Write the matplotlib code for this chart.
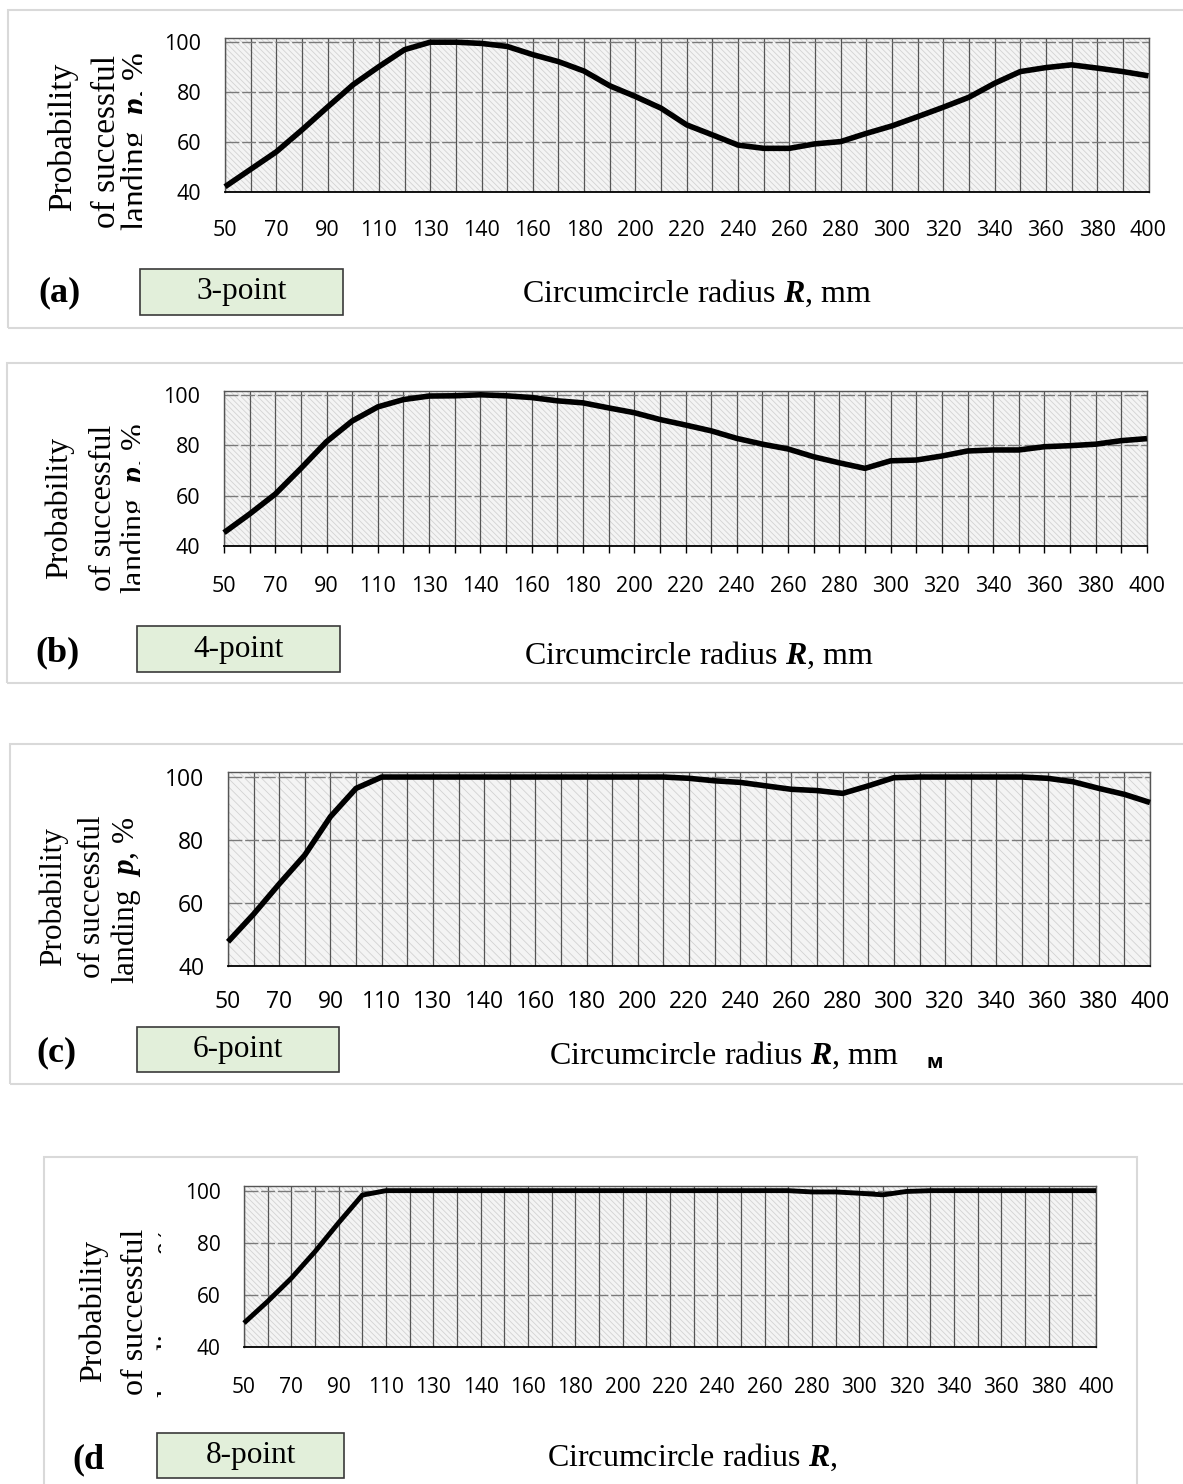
import matplotlib
matplotlib.use("Agg")
import matplotlib.pyplot as plt
from matplotlib.patches import Rectangle
from matplotlib.transforms import Bbox, TransformedBbox

# circumcircle radius categories (mm) - note the extra 135 category
R_mm = [50, 60, 70, 80, 90, 100, 110, 120, 130, 135, 140, 150, 160, 170, 180,
        190, 200, 210, 220, 230, 240, 250, 260, 270, 280, 290, 300, 310, 320,
        330, 340, 350, 360, 370, 380, 390, 400]

# probability of successful landing, %
p_3point = [42, 49, 56, 64.8, 74, 83, 90.2, 97, 100, 100, 99.5, 98.3, 95, 92.2,
            88.4, 82.5, 78.2, 73.5, 66.8, 62.8, 58.7, 57.4, 57.4, 59.2, 60.1,
            63.4, 66.4, 70.1, 73.9, 77.9, 83.5, 88.2, 89.8, 90.9, 89.6, 88.2, 86.5]
p_4point = [45.3, 52.7, 60.6, 70.8, 81.4, 89.6, 95.2, 98.1, 99.5, 99.6, 100,
            99.6, 98.9, 97.6, 96.8, 94.8, 92.9, 90.2, 88.0, 85.7, 82.7, 80.4,
            78.5, 75.4, 73.0, 70.8, 73.8, 74.1, 75.7, 77.7, 78.1, 78.1, 79.4,
            79.8, 80.4, 81.8, 82.6]
p_6point = [47.6, 56.4, 66, 75.2, 87.4, 96.4, 100, 100, 100, 100, 100, 100, 100,
            100, 100, 100, 100, 100, 99.6, 98.8, 98.3, 97.2, 96.1, 95.7, 94.8,
            97.2, 99.8, 100, 100, 100, 100, 100, 99.6, 98.5, 96.4, 94.5, 91.9]
p_8point = [49.2, 57.5, 66.4, 76.6, 87.7, 98.3, 100, 100, 100, 100, 100, 100,
            100, 100, 100, 100, 100, 100, 100, 100, 100, 100, 100, 100, 99.5,
            99.5, 99.0, 98.4, 99.7, 100, 100, 100, 100, 100, 100, 100, 100]

y_ticks = [40, 60, 80, 100]
panel_letters = ["(a)", "(b)", "(c)", "(d"]
point_labels = ["3-point", "4-point", "6-point", "8-point"]

W, H = 1183, 1484
SERIF = "Liberation Serif"
SANS = "Open Sans"

plt.rcParams["mathtext.fontset"] = "custom"
plt.rcParams["mathtext.rm"] = SERIF
plt.rcParams["mathtext.it"] = SERIF + ":italic"
plt.rcParams["mathtext.bf"] = SERIF + ":bold"
plt.rcParams["mathtext.bfit"] = SERIF + ":italic:bold"
plt.rcParams["hatch.linewidth"] = 0.6

fig = plt.figure(figsize=(W / 100, H / 100), dpi=100)


def frac(x, y):
    return x / W, 1 - y / H


def axrect(l, t, r, b):
    return [l / W, 1 - b / H, (r - l) / W, (b - t) / H]


def clip_left_of(xpix):
    return TransformedBbox(Bbox([[0, 0], [xpix / W, 1]]), fig.transFigure)


panels = [
    dict(data=p_3point, rect=(225, 37.7, 1148.5, 191.7), top=101.8, ticks=False,
         xpad=20.5, tsize=15.5, hatch="\\\\\\\\\\\\", frame=(8, 10, 1200, 328),
         ylab=[(71, 137), (115, 142), (145, 142)], yclip=142, ysize=24,
         letter=(60, 293), box=(140, 269, 342.5, 315), xlab=(522, 293)),
    dict(data=p_4point, rect=(224, 391, 1147, 546), top=101.5, ticks=True,
         xpad=16.5, tsize=15.5, hatch="\\\\\\\\\\\\", frame=(7, 363, 1200, 683),
         ylab=[(67, 508), (111, 508), (143, 508)], yclip=140, ysize=23,
         letter=(58, 653), box=(137, 626, 339.5, 672), xlab=(524, 655)),
    dict(data=p_6point, rect=(228, 771.7, 1150, 965.7), top=101.7, ticks=False,
         xpad=17.5, tsize=16.5, hatch="\\\\\\\\", frame=(9.6, 744, 1200, 1084),
         ylab=[(61, 897), (100, 897), (134, 900)], yclip=None, ysize=22.5,
         letter=(56, 1053), box=(137, 1027, 339, 1072), xlab=(549, 1055)),
    dict(data=p_8point, rect=(244, 1185.7, 1096, 1347), top=101.9, ticks=False,
         xpad=21.5, tsize=15, hatch="\\\\\\\\\\\\", frame=(44, 1157, 1137, 1520),
         ylab=[(101, 1311), (143, 1312), (180, 1312)], yclip=161, ysize=23,
         letter=(88, 1460), box=(157, 1433, 344, 1478), xlab=(547, 1457)),
]

xpos = list(range(len(R_mm)))
xlabels = [str(r) if i % 2 == 0 else "" for i, r in enumerate(R_mm)]

for k, pn in enumerate(panels):
    # chart area frame
    fl, ft, fr, fb = pn["frame"]
    fig.patches.append(Rectangle(frac(fl, fb), (fr - fl) / W, (fb - ft) / H,
                                 transform=fig.transFigure, fill=False,
                                 edgecolor="#d9d9d9", lw=1.5, zorder=0))

    ax = fig.add_axes(axrect(*pn["rect"]))
    ax.set_xlim(0, len(R_mm) - 1)
    ax.set_ylim(40, pn["top"])
    ax.add_patch(Rectangle((0, 0), 1, 1, transform=ax.transAxes,
                           facecolor="#f4f4f4", edgecolor="#d2d2d2", lw=0,
                           hatch=pn["hatch"], zorder=0))
    for x in xpos:
        ax.axvline(x, color="#555555", lw=0.9, zorder=1)
    for y in y_ticks:
        ax.axhline(y, color="#7a7a7a", lw=1.0, ls=(0, (10, 2)), zorder=1)

    ax.plot(xpos, pn["data"], color="black", lw=4 if k < 3 else 3.5,
            solid_joinstyle="round", solid_capstyle="butt", zorder=3,
            clip_on=False)

    ax.set_xticks(xpos)
    ax.set_xticklabels(xlabels, fontsize=pn["tsize"], family=SANS)
    ax.set_yticks(y_ticks)
    ax.set_yticklabels([str(v) for v in y_ticks], fontsize=pn["tsize"], family=SANS)
    if pn["ticks"]:
        ax.tick_params(axis="x", length=5, width=1, color="black", pad=pn["xpad"])
    else:
        ax.tick_params(axis="x", length=0, pad=pn["xpad"])
    ax.tick_params(axis="y", length=0, pad=17)
    for side in ["left", "top", "right"]:
        ax.spines[side].set_color("#555555")
        ax.spines[side].set_linewidth(1)
    ax.spines["bottom"].set_color("black")
    ax.spines["bottom"].set_linewidth(1.3)

    # y axis title, three rotated lines
    ylines = ["Probability", "of successful", r"landing  $\mathbfit{p}$, %"]
    for i, (txt, (bx, cy)) in enumerate(zip(ylines, pn["ylab"])):
        t = fig.text(*frac(bx, cy), txt, rotation=90, rotation_mode="anchor",
                     ha="center", va="baseline", fontsize=pn["ysize"], family=SERIF)
        if i == 2 and pn["yclip"] is not None:
            t.set_clip_box(clip_left_of(pn["yclip"]))
            t.set_clip_on(True)

    # panel letter
    lx, ly = pn["letter"]
    fig.text(*frac(lx, ly), panel_letters[k], ha="center", va="center",
             fontsize=26, fontweight="bold", family=SERIF)

    # green label box
    bl, bt, br, bb = pn["box"]
    fig.patches.append(Rectangle(frac(bl, bb), (br - bl) / W, (bb - bt) / H,
                                 transform=fig.transFigure, facecolor="#e2efda",
                                 edgecolor="#3a3a3a", lw=1.2, zorder=1))
    fig.text(*frac((bl + br) / 2, (bt + bb) / 2), point_labels[k], ha="center",
             va="center", fontsize=22.5, family=SERIF, zorder=2)

    # x axis title
    xl = "Circumcircle radius $\\mathbfit{R}$, mm" if k < 3 else "Circumcircle radius $\\mathbfit{R}$,"
    fig.text(*frac(*pn["xlab"]), xl, ha="left", va="center", fontsize=23, family=SERIF)

fig.text(*frac(935, 1063), "м", ha="center", va="center", fontsize=14,
         fontweight="bold", family=SANS)

fig.savefig("out.png", dpi=100)
